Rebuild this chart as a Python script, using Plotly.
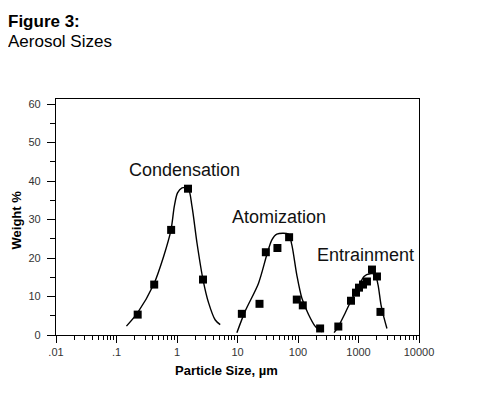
import math
import plotly.graph_objects as go

# ---- data ----
cond_x = [0.224, 0.42, 0.80, 1.52, 2.69]
cond_y = [5.3, 13.1, 27.3, 38.0, 14.4]
cond_fit_x = [0.146, 0.224, 0.411, 0.601, 0.796, 0.902, 1.02, 1.21, 1.52, 1.77, 2.14, 2.69, 3.32, 4.29, 5.18]
cond_fit_y = [2.3, 5.8, 13.1, 20.4, 27.3, 33.4, 36.9, 38.2, 38.2, 33.4, 23.9, 14.4, 8.4, 3.9, 2.7]

atom_x = [11.8, 23.1, 29.4, 45.7, 71.3, 95.5, 120, 232]
atom_y = [5.5, 8.1, 21.5, 22.6, 25.4, 9.2, 7.7, 1.7]
atom_fit_x = [9.77, 13.4, 22.2, 30.6, 37.0, 44.7, 69.5, 79.1, 95.5, 115.6, 148.6, 191.5, 247]
atom_fit_y = [0.6, 6.2, 13.4, 20.9, 24.7, 26.2, 26.2, 23.4, 15.6, 9.6, 5.4, 2.3, 0.8]

entr_x = [464, 752, 909, 1020, 1186, 1380, 1670, 2020, 2307]
entr_y = [2.2, 8.9, 11.0, 12.3, 13.1, 13.9, 17.0, 15.2, 6.0]
entr_fit_x = [395, 464, 598, 752, 981, 1233, 1549, 1871, 2100, 2352, 2636, 2952]
entr_fit_y = [0.6, 2.2, 5.6, 8.9, 12.3, 15.2, 15.9, 15.7, 13.1, 7.9, 4.5, 1.7]

x_tickvals = [0.01, 0.1, 1, 10, 100, 1000, 10000]
x_ticktext = [".01", ".1", "1", "10", "100", "1000", "10000"]
x_minor = [m * 10 ** k for k in range(-2, 4) for m in range(2, 10)]
y_tickvals = [0, 10, 20, 30, 40, 50, 60]

labels = ["Condensation", "Atomization", "Entrainment"]
label_x = [1.32, 48.8, 1330]
label_y = [42.9, 30.7, 20.9]

FONT = "Liberation Sans, Arial, sans-serif"

fig = go.Figure()
for fx, fy in [(cond_fit_x, cond_fit_y), (atom_fit_x, atom_fit_y), (entr_fit_x, entr_fit_y)]:
    fig.add_trace(go.Scatter(x=fx, y=fy, mode="lines",
                             line=dict(color="black", width=1.4, shape="spline", smoothing=0.8),
                             showlegend=False, hoverinfo="skip"))
for mx, my in [(cond_x, cond_y), (atom_x, atom_y), (entr_x, entr_y)]:
    fig.add_trace(go.Scatter(x=mx, y=my, mode="markers",
                             marker=dict(symbol="square", size=8, color="black"),
                             showlegend=False))

tick_font = dict(family=FONT, size=11, color="#333")

fig.update_xaxes(type="log", range=[-2, 4], showgrid=False, zeroline=False,
                 showline=True, linecolor="black", linewidth=1.3, mirror=True,
                 ticks="outside", ticklen=7, tickwidth=1, tickcolor="black",
                 tickvals=x_tickvals, ticktext=x_ticktext, tickfont=tick_font,
                 minor=dict(tickvals=x_minor, ticks="outside", ticklen=4, tickcolor="black"))
fig.update_yaxes(range=[0, 61.3], showgrid=False, zeroline=False,
                 showline=True, linecolor="black", linewidth=1.3, mirror=True,
                 ticks="outside", ticklen=8, tickwidth=1, tickcolor="black",
                 tickvals=y_tickvals, tickfont=tick_font, ticklabelstandoff=4,
                 minor=dict(dtick=5, ticks="outside", ticklen=5, tickcolor="black"))


def px_x(p):
    return (p - 56) / 363.0


def px_y(p):
    return (335.5 - p) / 236.0


ann = []
for t, lx, ly in zip(labels, label_x, label_y):
    ann.append(dict(x=math.log10(lx), y=ly, xref="x", yref="y", text=t, showarrow=False,
                    font=dict(family=FONT, size=18, color="#111")))

# axis titles
ann.append(dict(x=px_x(226.5), y=px_y(371), xref="paper", yref="paper", yanchor="middle",
                text="<b>Particle Size, µm</b>", showarrow=False,
                font=dict(family=FONT, size=13, color="black")))
ann.append(dict(x=px_x(16), y=px_y(221), xref="paper", yref="paper", xanchor="center", yanchor="middle",
                text="<b>Weight %</b>", textangle=-90, showarrow=False,
                font=dict(family=FONT, size=13, color="black")))
# figure title
ann.append(dict(x=px_x(6), y=px_y(22), xref="paper", yref="paper", xanchor="left", yanchor="middle",
                text="<b>Figure 3:</b>", showarrow=False,
                font=dict(family=FONT, size=17, color="black")))
ann.append(dict(x=px_x(6), y=px_y(42), xref="paper", yref="paper", xanchor="left", yanchor="middle",
                text="Aerosol Sizes", showarrow=False,
                font=dict(family=FONT, size=17, color="black")))

# page has an 8px body margin, so the figure is shifted by 8px
fig.update_layout(width=492, height=387, margin=dict(l=48, r=81, t=91, b=60),
                  paper_bgcolor="white", plot_bgcolor="white", annotations=ann)

fig.write_html("out.html")
